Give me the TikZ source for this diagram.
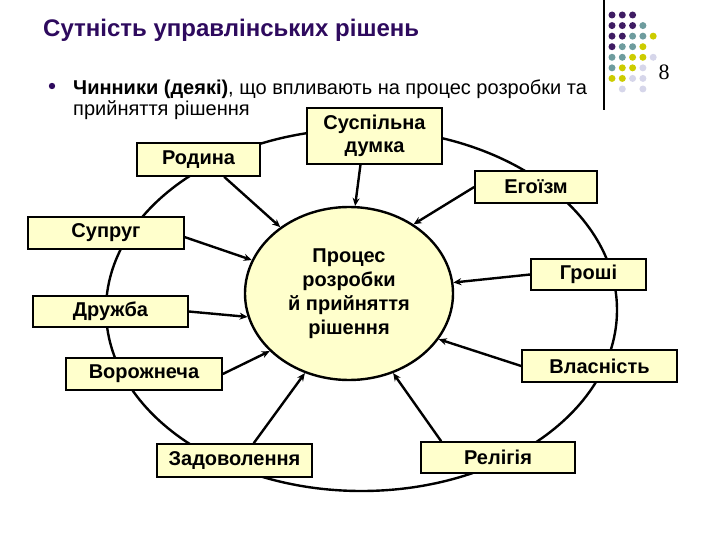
\documentclass[tikz,border=0pt]{standalone}
\usepackage{fontspec}
\setmainfont{Liberation Sans}
\newfontfamily\slidenumfont{Liberation Serif}
\usetikzlibrary{shapes.geometric,arrows.meta}
\definecolor{titlepurple}{HTML}{2E0A5E}
\definecolor{dP}{HTML}{3F1C63}
\definecolor{dT}{HTML}{6E9C9E}
\definecolor{dY}{HTML}{CCCC00}
\definecolor{dL}{HTML}{D6D6EA}
\definecolor{boxfill}{HTML}{FFFFCC}

\begin{document}
\begin{tikzpicture}[x=1pt,y=-1pt,
    factor/.style={draw=black, line width=1.6pt, fill=boxfill, inner sep=0pt,
      font=\bfseries\fontsize{20}{23}\selectfont, align=center},
    influence/.style={line width=2.4pt, -{Stealth[length=8pt,width=7pt]}},
    slidedot/.style={fill=#1, draw=none},
  ]
    \useasboundingbox (0,0) rectangle (720,540);

    % Corner decoration: dot grid, rule and page number
    \foreach \r/\c/\col in {1/1/dP,1/2/dP,1/3/dP,
        2/1/dP,2/2/dP,2/3/dP,2/4/dT,
        3/1/dP,3/2/dP,3/3/dT,3/4/dT,3/5/dY,
        4/1/dP,4/2/dT,4/3/dT,4/4/dY,
        5/1/dT,5/2/dT,5/3/dY,5/4/dY,5/5/dL,
        6/1/dT,6/2/dY,6/3/dY,6/4/dL,
        7/1/dY,7/2/dY,7/3/dL,7/4/dL,
        8/2/dL,8/4/dL} {
      \fill[slidedot=\col] (612+\c*10.3-10.3, 15+\r*10.57-10.57) circle [radius=3.5];
    }
    \draw[line width=1.2pt] (604,0) -- (604,110);
    \node[font=\slidenumfont\fontsize{22}{22}\selectfont] (pagenum) at (664,72) {8};

    % Title and bullet
    \node[anchor=base west, text=titlepurple, font=\bfseries\fontsize{24}{28}\selectfont, inner sep=0pt]
      (title) at (43,37) {Сутність управлінських рішень};
    \fill[titlepurple] (52,86) circle [radius=3.2];
    \node[anchor=base west, font=\fontsize{20}{22}\selectfont, inner sep=0pt]
      (bulletA) at (73,95) {\textbf{Чинники (деякі)}, що впливають на процес розробки та};
    \node[anchor=base west, font=\fontsize{20}{22}\selectfont, inner sep=0pt]
      (bulletB) at (73,116) {прийняття рішення};

    % Outer ring
    \draw[line width=2.4pt] (361.5,310) ellipse [x radius=255.5, y radius=181];

    % Centre
    \node[draw=black, ellipse, fill=boxfill, line width=2.4pt, inner sep=0pt,
          minimum width=208pt, minimum height=173pt, align=center,
          font=\bfseries\fontsize{20}{24}\selectfont]
      (proc) at (349,293.5) {Процес\\розробки\\й прийняття\\рішення};

    % Factors
    \node[factor, minimum width=123pt, minimum height=33pt] (rodyna)   at (198.5,159.5) {Родина};
    \node[factor, minimum width=135pt, minimum height=56pt] (dumka)    at (374.5,136)   {Суспільна\\думка};
    \node[factor, minimum width=122pt, minimum height=32pt] (egoizm)   at (536,187)     {Егоїзм};
    \node[factor, minimum width=156pt, minimum height=32pt] (suprug)   at (106,233)     {Супруг};
    \node[factor, minimum width=115pt, minimum height=31pt] (groshi)   at (588.5,274.5) {Гроші};
    \node[factor, minimum width=155pt, minimum height=31pt] (druzhba)  at (110.5,311.5) {Дружба};
    \node[factor, minimum width=155pt, minimum height=32pt] (vlasnist) at (599.5,366)   {Власність};
    \node[factor, minimum width=156pt, minimum height=32pt] (vorozh)   at (144,374)     {Ворожнеча};
    \node[factor, minimum width=155pt, minimum height=33pt] (zadov)    at (234.5,460.5) {Задоволення};
    \node[factor, minimum width=154pt, minimum height=31pt] (religiya) at (498,457.5)   {Релігія};

    % Influences
    \draw[influence] (rodyna.-34)   -- (proc.136);
    \draw[influence] (dumka.-116)   -- (proc.86);
    \draw[influence] (egoizm.west)  -- (proc.47);
    \draw[influence] (suprug.-3)    -- (proc.161);
    \draw[influence] (groshi.west)  -- (proc.6);
    \draw[influence] (druzhba.east) -- (proc.193);
    \draw[influence] (vlasnist.west) -- (proc.-27);
    \draw[influence] (vorozh.east)  -- (proc.-144);
    \draw[influence] (zadov.42)     -- (proc.-119);
    \draw[influence] (religiya.164) -- (proc.-61);

  \end{tikzpicture}
\end{document}
